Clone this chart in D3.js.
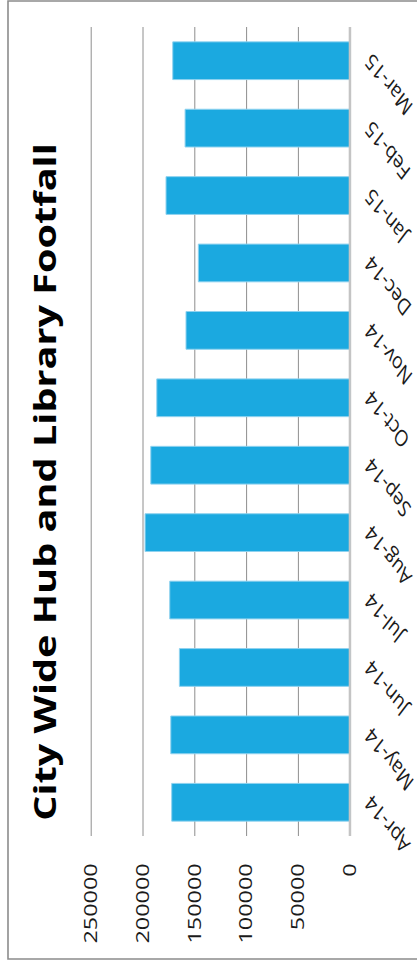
<!DOCTYPE html>
<html>
<head>
<meta charset="utf-8">
<script src="https://cdn.jsdelivr.net/npm/d3@7"></script>
<style>
  html, body { margin: 0; padding: 0; background: #fff; }
  svg { display: block; }
</style>
</head>
<body>
<div id="chart"></div>
<script>
// Monthly footfall figures
const months = ["Apr-14", "May-14", "Jun-14", "Jul-14", "Aug-14", "Sep-14",
                "Oct-14", "Nov-14", "Dec-14", "Jan-15", "Feb-15", "Mar-15"];
const footfall = [171800, 172700, 164400, 173700, 197500, 192000,
                  186200, 158000, 146100, 177300, 158900, 170800];
const valueTicks = [0, 50000, 100000, 150000, 200000, 250000];
const title = "City Wide Hub and Library Footfall";

const width = 417, height = 964;
const stretch = 1.3;          // horizontal stretch of the column chart
const innerW = height / stretch;

const svg = d3.select("#chart").append("svg")
  .attr("width", width).attr("height", height);

// Column chart laid out normally, then turned on its side
const g = svg.append("g")
  .attr("transform", `translate(0,${height}) rotate(-90) scale(${stretch},1)`);

const x0 = 128 / stretch, x1 = 937 / stretch;
const x = d3.scaleBand().domain(months).range([x0, x1])
  .paddingInner(0.44).paddingOuter(0.22);
const y = d3.scaleLinear().domain([0, 250000]).range([349.7, 90.7]);

// chart frame
g.append("rect")
  .attr("x", 5 / stretch).attr("y", 8)
  .attr("width", (963 - 5) / stretch).attr("height", 430)
  .attr("fill", "none").attr("stroke", "#8c8c8c").attr("stroke-width", 1.6)
  .attr("vector-effect", "non-scaling-stroke");

// value axis with gridlines
const yAxis = g.append("g")
  .attr("transform", `translate(${x0},0)`)
  .call(d3.axisLeft(y).tickValues(valueTicks).tickFormat(d3.format("d"))
    .tickSize(-(x1 - x0)).tickPadding(21));
yAxis.select(".domain").remove();
yAxis.selectAll(".tick line")
  .attr("stroke", d => d === 0 ? "#c4c4c4" : "#8e8e8e")
  .attr("stroke-width", d => d === 0 ? 2 : 1)
  .attr("vector-effect", "non-scaling-stroke");
yAxis.selectAll(".tick text")
  .attr("font-family", "'Open Sans', sans-serif")
  .attr("font-size", 18)
  .attr("fill", "#1a1a1a");

// bars
g.append("g").selectAll("rect")
  .data(months)
  .join("rect")
  .attr("x", d => x(d))
  .attr("width", x.bandwidth())
  .attr("y", (d, i) => y(footfall[i]))
  .attr("height", (d, i) => y(0) - y(footfall[i]))
  .attr("fill", "#1ba9e0")
  .attr("stroke", "#8fd2ef")
  .attr("stroke-width", 1)
  .attr("vector-effect", "non-scaling-stroke");

// zero line drawn over the bars
g.append("line")
  .attr("x1", x0).attr("x2", x1)
  .attr("y1", y(0)).attr("y2", y(0))
  .attr("stroke", "#c4c4c4").attr("stroke-width", 2)
  .attr("vector-effect", "non-scaling-stroke");

// category labels, slanted
g.append("g").selectAll("text")
  .data(months)
  .join("text")
  .attr("transform", d => `translate(${x(d) + x.bandwidth() / 2 - 2},${y(0) + 14}) rotate(-45)`)
  .attr("text-anchor", "end")
  .attr("dy", "0.71em")
  .attr("font-family", "'Open Sans', sans-serif")
  .attr("font-size", 17.5)
  .attr("fill", "#1a1a1a")
  .text(d => d);

// title
g.append("text")
  .attr("x", 482 / stretch).attr("y", 56)
  .attr("text-anchor", "middle")
  .attr("font-family", "'Open Sans', sans-serif")
  .attr("font-weight", "bold")
  .attr("font-size", 30.5)
  .attr("fill", "#000")
  .text(title);
</script>
</body>
</html>
